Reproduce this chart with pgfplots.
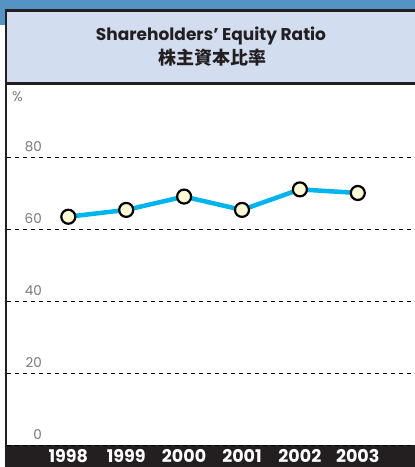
\documentclass[border=0pt]{standalone}
\usepackage{pgfplots}
\pgfplotsset{compat=1.18}
\usepackage{fontspec}
\setmainfont{Poppins}
\newfontfamily\cjk{Noto Sans CJK JP}
\definecolor{topblue}{HTML}{5593C5}
\definecolor{panel}{HTML}{D2DDEF}
\definecolor{frame}{HTML}{231F20}
\definecolor{linecol}{HTML}{00B4EE}
\definecolor{markfill}{HTML}{FFFAD6}
\definecolor{ticklab}{HTML}{7A7A7A}
\begin{document}
\begin{tikzpicture}[x=1pt,y=1pt]
\useasboundingbox (0,0) rectangle (415,467);
\fill[white] (0,0) rectangle (415,467);
\fill[topblue] (0,458) rectangle (415,467);
\fill[topblue] (0,442) rectangle (4.5,467);
\fill[frame] (4.5,455) rectangle (415,458);
\fill[frame] (4.5,22) rectangle (7,458);
\fill[panel] (7,385) rectangle (415,455);
\fill[frame] (7,382) rectangle (415,385);
\fill[frame] (4.5,0) rectangle (415,22);
\node[anchor=base, inner sep=0pt, text=frame, font=\fontsize{17}{20}\selectfont\bfseries] at (211,426) {Shareholders’ Equity Ratio};
\node[anchor=center, inner sep=0pt, text=frame, font=\fontsize{18}{20}\selectfont\cjk\bfseries] at (212,409.5) {株主資本比率};
\node[anchor=base west, inner sep=0pt, text=ticklab, font=\fontsize{14}{14}\selectfont] at (12,365) {\%};
\begin{axis}[
  at={(7pt,22pt)}, anchor=south west,
  scale only axis, width=408pt, height=363pt,
  xmin=-1.059, xmax=5.988, ymin=0, ymax=100.83,
  axis line style={draw=none},
  tick style={draw=none},
  ytick={0,20,40,60,80},
  ymajorgrids,
  grid style={black, line width=0.9pt, dash pattern=on 4pt off 4pt},
  xtick=data,
  xticklabels={1998,1999,2000,2001,2002,2003},
  /pgf/number format/assume math mode=true,
  yticklabel style={anchor=south east, inner sep=0pt, xshift=35pt, yshift=5pt, text=ticklab, font=\fontsize{13.5}{14}\selectfont},
  xticklabel style={anchor=north, inner sep=0pt, yshift=-4pt, text=white, font=\fontsize{17.5}{18}\selectfont\bfseries},
  clip=false,
]
\addplot[color=linecol, line width=4.5pt, mark=*, mark size=7pt,
  mark options={fill=markfill, draw=black, line width=2.2pt}]
  coordinates {(0,63.4) (1,65.3) (2,69.0) (3,65.3) (4,71.0) (5,70.0)};
\end{axis}
\end{tikzpicture}
\end{document}
